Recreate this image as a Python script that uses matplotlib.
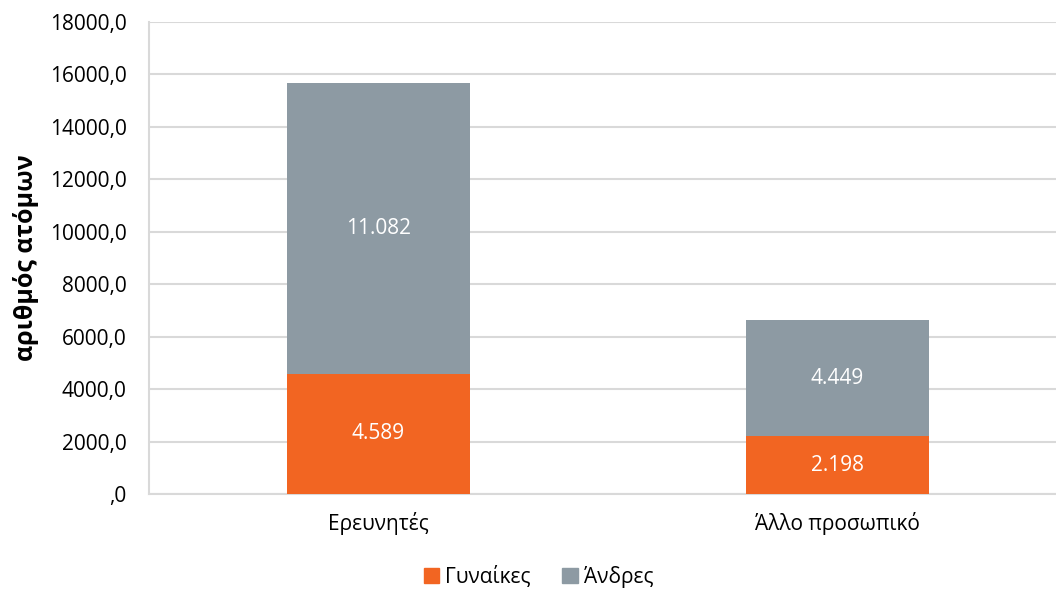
import matplotlib
matplotlib.use("Agg")
import matplotlib.pyplot as plt
from matplotlib.patches import Patch

# Δεδομένα
categories = ["Ερευνητές", "Άλλο προσωπικό"]
women = [4589, 2198]
men = [11082, 4449]
women_labels = ["4.589", "2.198"]
men_labels = ["11.082", "4.449"]
yticks = [0, 2000, 4000, 6000, 8000, 10000, 12000, 14000, 16000, 18000]
ytick_labels = [",0", "2000,0", "4000,0", "6000,0", "8000,0", "10000,0",
                "12000,0", "14000,0", "16000,0", "18000,0"]

ORANGE = "#F26522"
GREY = "#8D9AA3"
GRID = "#D9D9D9"

plt.rcParams["font.family"] = ["Open Sans", "DejaVu Sans"]

fig = plt.figure(figsize=(10.56, 5.9), dpi=100)
ax = fig.add_axes([0.1411, 0.1627, 0.8589, 0.8])

x = list(range(len(categories)))
ax.bar(x, women, width=0.4, color=ORANGE, zorder=3)
ax.bar(x, men, width=0.4, bottom=women, color=GREY, zorder=3)

for i in x:
    ax.text(i, women[i] / 2, women_labels[i], ha="center", va="center",
            color="white", fontsize=15, zorder=4)
    ax.text(i, women[i] + men[i] / 2, men_labels[i], ha="center", va="center",
            color="white", fontsize=15, zorder=4)

ax.set_xlim(-0.5, 1.476)
ax.set_ylim(0, 18000)
ax.set_yticks(yticks)
ax.set_yticklabels(ytick_labels, fontsize=15)
ax.set_xticks(x)
ax.set_xticklabels(categories, fontsize=15)
ax.tick_params(axis="y", length=0, pad=16)
ax.tick_params(axis="x", length=0, pad=13)

ax.grid(axis="y", color=GRID, linewidth=1.5, zorder=0)
for s in ["top", "right"]:
    ax.spines[s].set_visible(False)
ax.spines["left"].set_color(GRID)
ax.spines["left"].set_linewidth(1.5)
ax.spines["bottom"].set_color(GRID)
ax.spines["bottom"].set_linewidth(1.5)

ax.set_ylabel("αριθμός ατόμων", fontsize=18, fontweight="bold", labelpad=8)

handles = [Patch(color=ORANGE, label="Γυναίκες"), Patch(color=GREY, label="Άνδρες")]
fig.legend(handles=handles, loc="center", bbox_to_anchor=(0.51, 0.022),
           ncol=2, frameon=False, fontsize=15, handlelength=0.75,
           handleheight=0.75, handletextpad=0.3, columnspacing=1.5)

fig.savefig("out.png", dpi=100)
